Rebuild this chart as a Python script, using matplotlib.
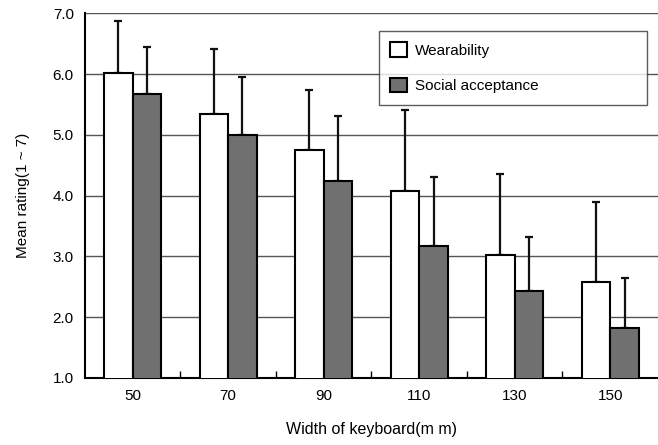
import matplotlib.pyplot as plt
import numpy as np

plt.rcParams['font.family'] = ['Liberation Sans', 'DejaVu Sans']

widths = ['50', '70', '90', '110', '130', '150']
wear_mean = [6.02, 5.34, 4.75, 4.08, 3.02, 2.57]
wear_err = [0.85, 1.07, 0.98, 1.33, 1.33, 1.33]
social_mean = [5.67, 5.00, 4.24, 3.17, 2.43, 1.82]
social_err = [0.78, 0.96, 1.07, 1.13, 0.88, 0.83]

fig = plt.figure(figsize=(6.58, 4.45), dpi=100)
ax = fig.add_axes([0.129, 0.151, 0.871, 0.819])

x = np.arange(len(widths))
w = 0.3

ax.bar(x - w/2, wear_mean, w, color='white', edgecolor='black',
       linewidth=1.5, label='Wearability', zorder=3)
ax.bar(x + w/2, social_mean, w, color='#707070', edgecolor='black',
       linewidth=1.5, label='Social acceptance', zorder=3)

# upper error bars only
ax.errorbar(x - w/2, wear_mean, yerr=[np.zeros(6), wear_err], fmt='none',
            ecolor='#111111', elinewidth=1.6, capsize=2.6, capthick=1.6, zorder=2)
ax.errorbar(x + w/2, social_mean, yerr=[np.zeros(6), social_err], fmt='none',
            ecolor='#111111', elinewidth=1.6, capsize=2.6, capthick=1.6, zorder=2)

ax.set_ylim(1.0, 7.0)
ax.set_xlim(-0.5, 5.5)
ax.set_yticks(np.arange(1.0, 7.01, 1.0))
ax.set_yticklabels(['%.1f' % v for v in np.arange(1.0, 7.01, 1.0)], fontsize=11)
ax.set_xticks(x)
ax.set_xticklabels(widths, fontsize=11)
ax.set_xticks(np.arange(0.5, 5, 1.0), minor=True)
ax.tick_params(axis='x', which='major', length=0, pad=8)
ax.tick_params(axis='x', which='minor', direction='in', length=5, width=1)
ax.tick_params(axis='y', length=0, pad=8)

ax.yaxis.grid(True, color='#555555', linewidth=1, zorder=0)
ax.set_axisbelow(True)
for s in ['top', 'right']:
    ax.spines[s].set_visible(False)
ax.spines['left'].set_linewidth(1.5)
ax.spines['bottom'].set_linewidth(1.5)

ax.set_xlabel('Width of keyboard(m m)', fontsize=11.5, labelpad=14)
ax.set_ylabel('Mean rating(1 ~ 7)', fontsize=11, labelpad=16)

leg = ax.legend(loc='upper left', bbox_to_anchor=(0.576, 0.7625, 0.4073, 0.168),
                bbox_transform=fig.transFigure, mode='expand', fontsize=11,
                frameon=True, fancybox=False, edgecolor='#333333',
                handlelength=1.08, handleheight=1.08, labelspacing=1.3,
                handletextpad=0.55, borderpad=0.75, borderaxespad=0)
leg.get_frame().set_linewidth(1)

fig.savefig('out.png', dpi=100)
